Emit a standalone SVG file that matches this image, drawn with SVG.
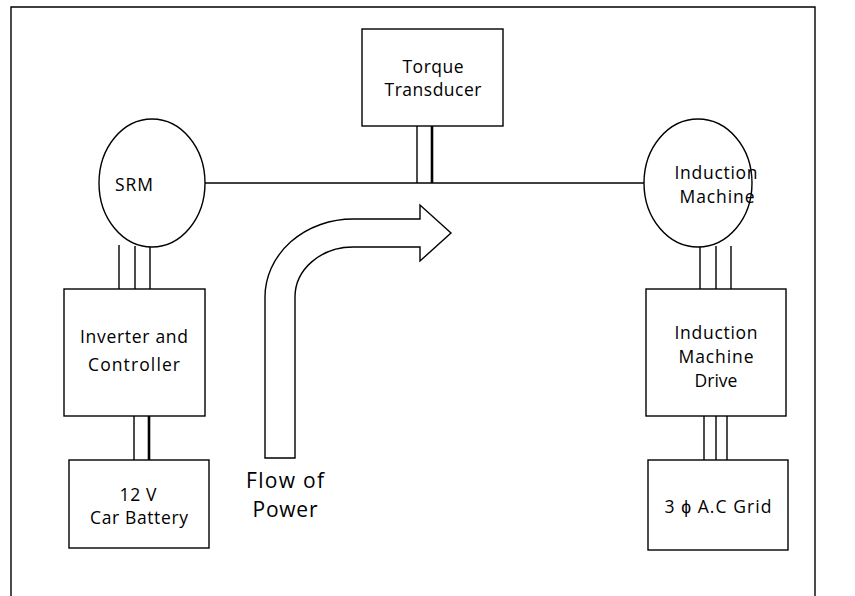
<svg xmlns="http://www.w3.org/2000/svg" width="855" height="596" viewBox="0 0 855 596">
  <style>
    .box { fill: #ffffff; stroke: #000000; stroke-width: 1.4; }
    .wire { stroke: #000000; stroke-width: 1.4; fill: none; }
    .bold { stroke: #000000; stroke-width: 2.6; fill: none; }
    .lbl { font-family: "Open Sans", "Liberation Sans", sans-serif; font-size: 17.5px; fill: #000000; text-anchor: middle; }
    .big { font-family: "Open Sans", "Liberation Sans", sans-serif; font-size: 21px; fill: #000000; text-anchor: middle; }
  </style>
  <rect width="855" height="596" fill="#ffffff"/>

  <!-- outer border -->
  <path class="wire" d="M 11 596 L 11 7 L 815 7 L 815 596"/>

  <!-- connectors: shaft and cable bundles -->
  <g id="connectors">
    <line class="wire" x1="205" y1="183" x2="645" y2="183"/>
    <line class="wire" x1="417" y1="126" x2="417" y2="183"/>
    <line class="bold" x1="432" y1="126" x2="432" y2="183"/>

    <line class="wire" x1="119" y1="245" x2="119" y2="289"/>
    <line class="wire" x1="135" y1="246" x2="135" y2="289"/>
    <line class="wire" x1="150" y1="246" x2="150" y2="289"/>

    <line class="wire" x1="134" y1="416" x2="134" y2="460"/>
    <line class="bold" x1="149" y1="416" x2="149" y2="460"/>

    <line class="wire" x1="700" y1="246" x2="700" y2="289"/>
    <line class="wire" x1="716" y1="246" x2="716" y2="289"/>
    <line class="wire" x1="731" y1="246" x2="731" y2="289"/>

    <line class="wire" x1="704" y1="416" x2="704" y2="460"/>
    <line class="wire" x1="716" y1="416" x2="716" y2="460"/>
    <line class="wire" x1="727" y1="416" x2="727" y2="460"/>
  </g>

  <g id="torque-transducer">
    <rect class="box" x="362" y="29" width="141" height="97"/>
    <text class="lbl" x="433" y="73" textLength="61">Torque</text>
    <text class="lbl" x="433" y="96" textLength="97">Transducer</text>
  </g>

  <g id="srm">
    <ellipse class="box" cx="152" cy="183" rx="53" ry="64"/>
    <text class="lbl" x="134" y="191" textLength="38">SRM</text>
  </g>

  <g id="induction-machine">
    <ellipse class="box" cx="698" cy="183" rx="54" ry="64"/>
    <text class="lbl" x="716" y="179" textLength="83">Induction</text>
    <text class="lbl" x="717" y="203" textLength="75">Machine</text>
  </g>

  <g id="inverter-controller">
    <rect class="box" x="64" y="289" width="141" height="127"/>
    <text class="lbl" x="134" y="343" textLength="108">Inverter and</text>
    <text class="lbl" x="134" y="371" textLength="92">Controller</text>
  </g>

  <g id="car-battery">
    <rect class="box" x="69" y="460" width="140" height="88"/>
    <text class="lbl" x="138" y="501" textLength="37">12 V</text>
    <text class="lbl" x="139" y="524" textLength="98">Car Battery</text>
  </g>

  <g id="im-drive">
    <rect class="box" x="646" y="289" width="140" height="127"/>
    <text class="lbl" x="716" y="339" textLength="83">Induction</text>
    <text class="lbl" x="716" y="363" textLength="75">Machine</text>
    <text class="lbl" x="716" y="387">Drive</text>
  </g>

  <g id="ac-grid">
    <rect class="box" x="648" y="460" width="140" height="90"/>
    <text class="lbl" x="718" y="513" textLength="107">3 ϕ A.C Grid</text>
  </g>

  <g id="power-flow">
    <path class="box" d="M 265 458 L 265 297 A 88 78 0 0 1 353 219 L 420 219 L 420 205 L 451 233 L 420 261 L 420 247 L 353 247 A 58 50 0 0 0 295 297 L 295 458 Z"/>
    <text class="big" x="285" y="488" textLength="78">Flow of</text>
    <text class="big" x="285" y="517" textLength="65">Power</text>
  </g>
</svg>
